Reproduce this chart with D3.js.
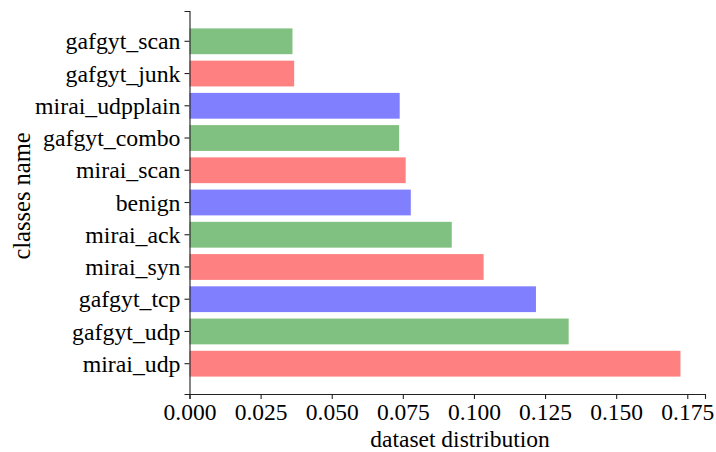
<!DOCTYPE html>
<html>
<head>
<meta charset="utf-8">
<script src="https://cdn.jsdelivr.net/npm/d3@7"></script>
<style>
  body { margin: 0; background: #fff; }
</style>
</head>
<body>
<script>
// bottom to top
const classes = ["mirai_udp", "gafgyt_udp", "gafgyt_tcp", "mirai_syn", "mirai_ack", "benign",
                 "mirai_scan", "gafgyt_combo", "mirai_udpplain", "gafgyt_junk", "gafgyt_scan"]
const distribution = [0.1726, 0.1333, 0.1218, 0.1034, 0.0922, 0.0778,
                      0.0760, 0.0737, 0.0739, 0.0368, 0.0362]
const palette = ["#ff8080", "#80c080", "#8080ff"]
const xTicks = [0, 0.025, 0.05, 0.075, 0.1, 0.125, 0.15, 0.175]

const width = 716, height = 452
const margin = {top: 11, right: 11, bottom: 58, left: 189.5}
const serif = "'Liberation Serif', 'Times New Roman', serif"

const svg = d3.select("body").append("svg")
    .attr("width", width)
    .attr("height", height)
    .style("font-family", serif)

const xMax = d3.max(distribution) * 1.05
const x = d3.scaleLinear()
    .domain([0, xMax])
    .range([margin.left, width - margin.right])

const y = d3.scaleBand()
    .domain(classes)
    .range([height - margin.bottom, margin.top])
    .paddingInner(0.2)
    .paddingOuter(0.54)

// bars
svg.append("g").selectAll("rect")
    .data(classes)
  .enter().append("rect")
    .attr("x", x(0))
    .attr("y", d => y(d))
    .attr("width", (d, i) => x(distribution[i]) - x(0))
    .attr("height", y.bandwidth())
    .attr("fill", (d, i) => palette[i % 3])

// x axis
const xAxis = svg.append("g")
    .attr("transform", `translate(0,${height - margin.bottom})`)
    .call(d3.axisBottom(x).tickValues(xTicks).tickFormat(d3.format(".3f")).tickSizeOuter(0).tickSize(5).tickPadding(4))
xAxis.attr("font-family", null)
xAxis.selectAll("text").style("font-size", "23.5px").style("font-family", serif).attr("fill", "#000")
xAxis.select(".domain").attr("stroke", "#222").attr("stroke-width", 1.1)
xAxis.selectAll(".tick line").attr("stroke", "#222").attr("stroke-width", 1.1)

// y axis
const yAxis = svg.append("g")
    .attr("transform", `translate(${margin.left},0)`)
    .call(d3.axisLeft(y).tickSizeOuter(0).tickSize(5).tickPadding(4))
yAxis.attr("font-family", null)
yAxis.selectAll("text").style("font-size", "23.8px").style("font-family", serif).attr("fill", "#000").attr("dy", "0.34em")
yAxis.select(".domain").attr("stroke", "#222").attr("stroke-width", 1.1)
yAxis.selectAll(".tick line").attr("stroke", "#222").attr("stroke-width", 1.1)

// axis labels
svg.append("text")
    .attr("x", 460)
    .attr("y", 447)
    .attr("text-anchor", "middle")
    .style("font-size", "23.5px")
    .text("dataset distribution")

svg.append("text")
    .attr("transform", "translate(30,196) rotate(-90)")
    .attr("text-anchor", "middle")
    .style("font-size", "24.5px")
    .text("classes name")
</script>
</body>
</html>
